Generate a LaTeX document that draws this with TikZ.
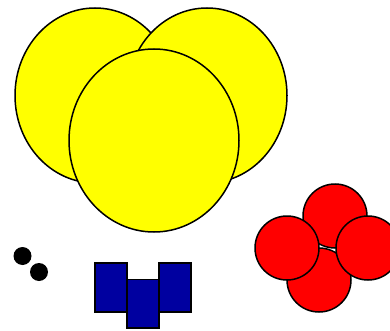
\documentclass[tikz,border=0pt]{standalone}
\definecolor{darkblue}{RGB}{0,0,160}
\definecolor{pureyellow}{RGB}{255,255,0}
\definecolor{purered}{RGB}{255,0,0}
\tikzset{
	blob/.style={draw=black, line width=1.5pt},
}
\begin{document}
\begin{tikzpicture}[x=1pt, y=-1pt]
		\useasboundingbox (0,0) rectangle (390,331);

		\draw[blob, fill=pureyellow] (95,95.5) ellipse (80 and 87.5);
		\draw[blob, fill=pureyellow] (207,95.5) ellipse (80 and 87.5);
		\draw[blob, fill=pureyellow] (154,140.5) ellipse (85 and 91.5);

		\fill (22.5,256) circle (9);
		\fill (39,272) circle (9);

		\draw[blob, fill=darkblue] (95,263) rectangle (127,312);
		\draw[blob, fill=darkblue] (159,263) rectangle (191,312);
		\draw[blob, fill=darkblue] (127,279.5) rectangle (159,328);

		\draw[blob, fill=purered] (335,216) circle (32);
		\draw[blob, fill=purered] (319,280) circle (32);
		\draw[blob, fill=purered] (287,248) circle (32);
		\draw[blob, fill=purered] (368,248) circle (32);

	\end{tikzpicture}
\end{document}
